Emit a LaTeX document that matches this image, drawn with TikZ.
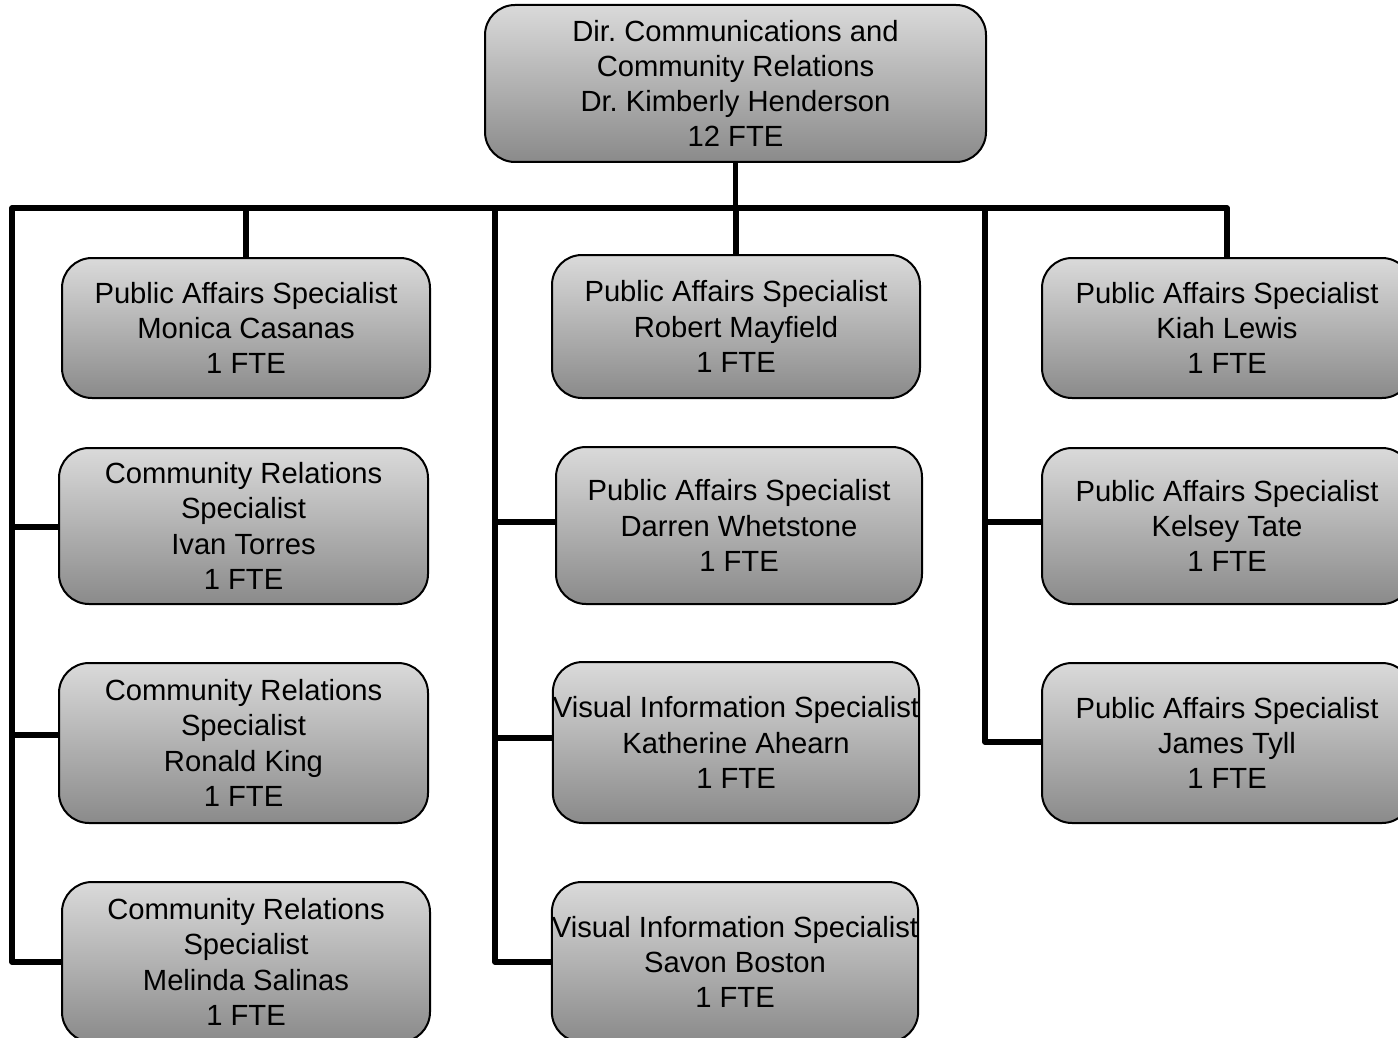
\documentclass[tikz,border=0pt]{standalone}
\usepackage{fontspec}
\setmainfont{Liberation Sans}
\frenchspacing
\begin{document}
\definecolor{boxtop}{RGB}{218,218,218}
\definecolor{boxbot}{RGB}{138,138,138}
\begin{tikzpicture}[x=0.5pt,y=-0.5pt,
  orgbox/.style={draw=black, line width=1pt, rounded corners=15pt,
    top color=boxtop, bottom color=boxbot, align=center, inner sep=0pt,
    font=\fontsize{14.6pt}{17.6pt}\selectfont},
  link/.style={line width=2.6pt, line join=round, black}]
\useasboundingbox (0,0) rectangle (1398,1038);
\clip (0,0) rectangle (1398,1038);

% director
\node[orgbox, minimum width=250.5pt, minimum height=78.5pt] (dir) at (735.5,83.5)
  {Dir. Communications and\\Community Relations\\Dr. Kimberly Henderson\\12 FTE};

% left column
\node[orgbox, minimum width=184pt, minimum height=70pt] (l1) at (246,328)
  {Public Affairs Specialist\\Monica Casanas\\1 FTE};
\node[orgbox, minimum width=184.5pt, minimum height=78pt] (l2) at (243.5,526)
  {Community Relations\\Specialist\\Ivan Torres\\1 FTE};
\node[orgbox, minimum width=184.5pt, minimum height=80pt] (l3) at (243.5,743)
  {Community Relations\\Specialist\\Ronald King\\1 FTE};
\node[orgbox, minimum width=184pt, minimum height=80pt] (l4) at (246,962)
  {Community Relations\\Specialist\\Melinda Salinas\\1 FTE};

% centre column
\node[orgbox, minimum width=184pt, minimum height=71.5pt] (c1) at (736,326.5)
  {Public Affairs Specialist\\Robert Mayfield\\1 FTE};
\node[orgbox, minimum width=183pt, minimum height=78.5pt] (c2) at (739,525.5)
  {Public Affairs Specialist\\Darren Whetstone\\1 FTE};
\node[orgbox, minimum width=183pt, minimum height=80.5pt] (c3) at (736,742.5)
  {Visual Information Specialist\\Katherine Ahearn\\1 FTE};
\node[orgbox, minimum width=183pt, minimum height=80pt] (c4) at (735,962)
  {Visual Information Specialist\\Savon Boston\\1 FTE};

% right column
\node[orgbox, minimum width=185pt, minimum height=70pt] (r1) at (1227,328)
  {Public Affairs Specialist\\Kiah Lewis\\1 FTE};
\node[orgbox, minimum width=185pt, minimum height=78pt] (r2) at (1227,526)
  {Public Affairs Specialist\\Kelsey Tate\\1 FTE};
\node[orgbox, minimum width=185pt, minimum height=80pt] (r3) at (1227,743)
  {Public Affairs Specialist\\James Tyll\\1 FTE};

% bus and spines
\coordinate (busL) at (12,208);
\coordinate (busC) at (495,208);
\coordinate (busR) at (985,208);
\coordinate (busY) at (0,208);

\draw[link] (dir.south) -- (dir.south |- busY);
\draw[link] (l4.west) -| (busL) -| (r1.north);
\draw[link] (l1.north) -- (l1.north |- busY);
\draw[link] (c1.north) -- (c1.north |- busY);

% left branches
\draw[link] (busL |- 0,527) -- (l2.west |- 0,527);
\draw[link] (busL |- 0,735) -- (l3.west |- 0,735);

% centre spine and branches
\draw[link] (c4.west) -| (busC);
\draw[link] (busC |- 0,522) -- (c2.west |- 0,522);
\draw[link] (busC |- 0,738) -- (c3.west |- 0,738);

% right spine and branches
\draw[link] (r3.west |- 0,742) -| (busR);
\draw[link] (busR |- 0,522) -- (r2.west |- 0,522);
\end{tikzpicture}
\end{document}
